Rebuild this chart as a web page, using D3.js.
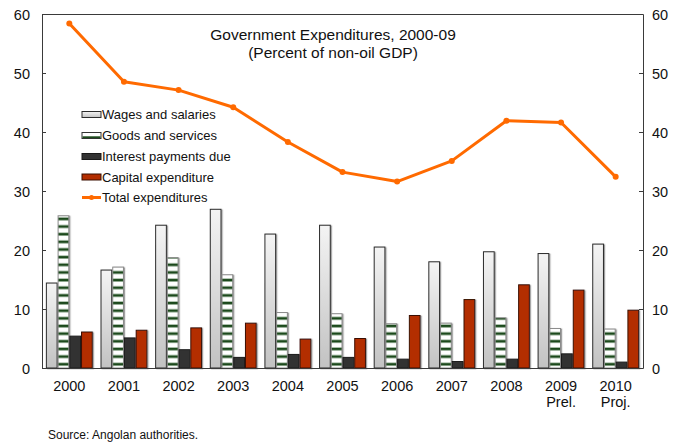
<!DOCTYPE html>
<html>
<head>
<meta charset="utf-8">
<script src="https://cdn.jsdelivr.net/npm/d3@7"></script>
<style>
  html, body { margin: 0; padding: 0; background: #fff; }
  svg { display: block; font-family: "Liberation Sans", Arial, sans-serif; }
</style>
</head>
<body>
<script>
// Fiscal data, percent of non-oil GDP
const years = ["2000", "2001", "2002", "2003", "2004", "2005", "2006", "2007", "2008", "2009", "2010"];
const yearNotes = ["", "", "", "", "", "", "", "", "", "Prel.", "Proj."];
const wages = [14.4, 16.6, 24.2, 26.9, 22.7, 24.2, 20.5, 18.0, 19.7, 19.4, 21.0];
const goods = [25.8, 17.1, 18.7, 15.8, 9.4, 9.2, 7.5, 7.6, 8.5, 6.7, 6.6];
const interest = [5.4, 5.1, 3.1, 1.8, 2.3, 1.8, 1.5, 1.1, 1.5, 2.4, 1.0];
const capital = [6.1, 6.4, 6.8, 7.6, 4.9, 5.0, 8.9, 11.6, 14.1, 13.2, 9.8];
const total = [58.4, 48.5, 47.1, 44.2, 38.3, 33.2, 31.6, 35.1, 41.9, 41.6, 32.4];
const yTicks = [0, 10, 20, 30, 40, 50, 60];
const seriesNames = ["Wages and salaries", "Goods and services", "Interest payments due", "Capital expenditure"];
const lineName = "Total expenditures";

const W = 682, H = 442;
const plot = { left: 42, right: 643, top: 14, bottom: 368 };

const svg = d3.select("body").append("svg").attr("width", W).attr("height", H);
const defs = svg.append("defs");

// grey vertical gradient for wages bars
const grad = defs.append("linearGradient").attr("id", "wageFill")
  .attr("x1", 0).attr("y1", 0).attr("x2", 0).attr("y2", 1);
grad.append("stop").attr("offset", "0%").attr("stop-color", "#f4f4f4");
grad.append("stop").attr("offset", "100%").attr("stop-color", "#c2c2c2");

// horizontal green stripes for goods and services
const pat = defs.append("pattern").attr("id", "goodsFill")
  .attr("patternUnits", "userSpaceOnUse").attr("width", 8).attr("height", 7.65)
  .attr("y", plot.bottom);
pat.append("rect").attr("width", 8).attr("height", 7.65).attr("fill", "#ffffff");
pat.append("rect").attr("y", 2.2).attr("width", 8).attr("height", 3.4).attr("fill", "#9db59d");
pat.append("rect").attr("y", 2.8).attr("width", 8).attr("height", 2.2).attr("fill", "#1d4a1d");

// soft shadow under the bars
const sh = defs.append("filter").attr("id", "shadow")
  .attr("x", "-30%").attr("y", "-10%").attr("width", "160%").attr("height", "120%");
sh.append("feDropShadow").attr("dx", 1.2).attr("dy", 0.6).attr("stdDeviation", 0.7)
  .attr("flood-color", "#777").attr("flood-opacity", 0.7);

const x0 = d3.scaleBand().domain(years).range([plot.left, plot.right]).paddingInner(0).paddingOuter(0);
const x1 = d3.scaleBand().domain(seriesNames).range([0, x0.bandwidth()]).paddingInner(0).paddingOuter(0.33);
const y = d3.scaleLinear().domain([0, 60]).range([plot.bottom, plot.top]);

const seriesData = [wages, goods, interest, capital];
const fills = ["url(#wageFill)", "url(#goodsFill)", "#333333", "#b32d00"];
const strokes = ["#2b2b2b", "#8a8a8a", "#1a1a1a", "#3a0f00"];

// bars
seriesData.forEach((vals, si) => {
  svg.append("g").attr("filter", "url(#shadow)")
    .selectAll("rect").data(vals).enter().append("rect")
    .attr("x", (d, i) => x0(years[i]) + x1(seriesNames[si]) + 0.5)
    .attr("y", d => y(d))
    .attr("width", x1.bandwidth() - 1)
    .attr("height", d => y(0) - y(d))
    .attr("fill", fills[si])
    .attr("stroke", strokes[si])
    .attr("stroke-width", 1);
});

// frame and axes
const axisColor = "#3a3a3a";
const gLeft = svg.append("g").attr("transform", `translate(${plot.left},0)`)
  .call(d3.axisRight(y).tickValues(yTicks).tickSize(4).tickFormat(""));
const gRight = svg.append("g").attr("transform", `translate(${plot.right},0)`)
  .call(d3.axisLeft(y).tickValues(yTicks).tickSize(4).tickFormat(""));
[gLeft, gRight].forEach(g => {
  g.select(".domain").attr("stroke", axisColor);
  g.selectAll(".tick line").attr("stroke", axisColor);
});
svg.append("line").attr("x1", plot.left).attr("x2", plot.right)
  .attr("y1", plot.top + 0.5).attr("y2", plot.top + 0.5).attr("stroke", axisColor);
svg.append("line").attr("x1", plot.left).attr("x2", plot.right)
  .attr("y1", plot.bottom + 0.5).attr("y2", plot.bottom + 0.5).attr("stroke", axisColor);

// tick labels, both sides
yTicks.forEach(t => {
  svg.append("text").attr("x", 30).attr("y", y(t) + 5.5)
    .attr("text-anchor", "end").attr("font-size", 14.5).attr("fill", "#111").text(t);
  svg.append("text").attr("x", 652).attr("y", y(t) + 5.5)
    .attr("text-anchor", "start").attr("font-size", 14.5).attr("fill", "#111").text(t);
});

// category labels
years.forEach((yr, i) => {
  const cx = x0(yr) + x0.bandwidth() / 2;
  svg.append("text").attr("x", cx).attr("y", 391).attr("text-anchor", "middle")
    .attr("font-size", 14.5).attr("fill", "#111").text(yr);
  if (yearNotes[i]) {
    svg.append("text").attr("x", cx).attr("y", 407).attr("text-anchor", "middle")
      .attr("font-size", 14.5).attr("fill", "#111").text(yearNotes[i]);
  }
});

// total expenditures line
const lineColor = "#ff6a00";
const line = d3.line()
  .x((d, i) => x0(years[i]) + x0.bandwidth() / 2)
  .y(d => y(d));
svg.append("path").datum(total).attr("d", line)
  .attr("fill", "none").attr("stroke", lineColor).attr("stroke-width", 3).attr("stroke-linejoin", "round");
svg.append("g").selectAll("circle").data(total).enter().append("circle")
  .attr("cx", (d, i) => x0(years[i]) + x0.bandwidth() / 2)
  .attr("cy", d => y(d)).attr("r", 3).attr("fill", lineColor);

// title
svg.append("text").attr("x", 333).attr("y", 40).attr("text-anchor", "middle")
  .attr("font-size", 15.5).attr("fill", "#111").text("Government Expenditures, 2000-09");
svg.append("text").attr("x", 333).attr("y", 58).attr("text-anchor", "middle")
  .attr("font-size", 15.5).attr("fill", "#111").text("(Percent of non-oil GDP)");

// legend
const lg = svg.append("g");
const rowY = [114.5, 135.5, 156.5, 177, 197.5];
seriesNames.forEach((name, i) => {
  const sw = lg.append("rect").attr("x", 82).attr("y", rowY[i] - 3).attr("width", 19).attr("height", 6)
    .attr("stroke", strokes[i] === "#8a8a8a" ? "#333" : strokes[i]).attr("stroke-width", 1);
  if (i === 0) sw.attr("fill", "url(#wageFill)");
  else if (i === 1) {
    sw.attr("fill", "#ffffff");
    lg.append("rect").attr("x", 82.5).attr("y", rowY[i] + 0.8).attr("width", 18).attr("height", 1.8).attr("fill", "#1d4a1d");
  } else sw.attr("fill", fills[i]);
  lg.append("text").attr("x", 102).attr("y", rowY[i] + 4.5).attr("font-size", 13).attr("fill", "#111").text(name);
});
lg.append("line").attr("x1", 82).attr("x2", 101).attr("y1", rowY[4]).attr("y2", rowY[4])
  .attr("stroke", lineColor).attr("stroke-width", 3);
lg.append("circle").attr("cx", 91.5).attr("cy", rowY[4]).attr("r", 2.5).attr("fill", lineColor);
lg.append("text").attr("x", 102).attr("y", rowY[4] + 4.5).attr("font-size", 13).attr("fill", "#111").text(lineName);

// source note
svg.append("text").attr("x", 48).attr("y", 439).attr("font-size", 12).attr("fill", "#111")
  .text("Source: Angolan authorities.");
</script>
</body>
</html>
